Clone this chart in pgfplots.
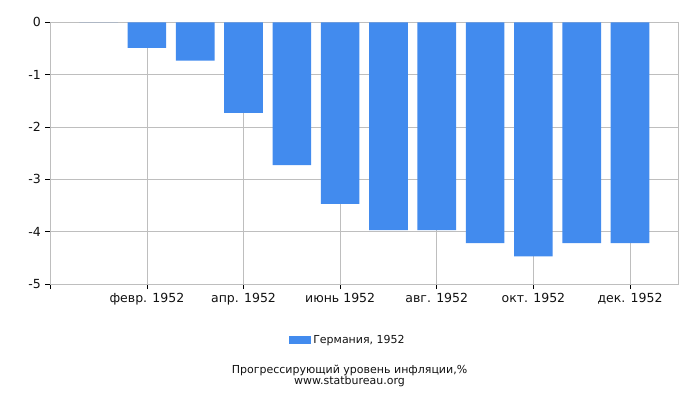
\documentclass[border=0pt]{standalone}
\usepackage{fontspec}
\setmainfont{DejaVu Sans}
\usepackage{pgfplots}
\pgfplotsset{compat=1.18}
\definecolor{barblue}{HTML}{428BEE}
\definecolor{gridgray}{HTML}{BEBEBE}
\definecolor{txt}{HTML}{111111}

\begin{document}
\begin{tikzpicture}
  \begin{axis}[
      scale only axis=true,
      width=628bp, height=261.7bp,
      xmin=-1, xmax=12,
      ymin=-5, ymax=0,
      ybar, bar width=0.8,
      xtick={-1,1,3,5,7,9,11},
      xticklabels={,февр. 1952,апр. 1952,июнь 1952,авг. 1952,окт. 1952,дек. 1952},
      ytick={-5,-4,-3,-2,-1,0},
      /pgf/number format/assume math mode=true,
      ticklabel style={font=\fontsize{12.5bp}{14bp}\selectfont, text=txt},
      xmajorgrids, ymajorgrids,
      grid style={gridgray, line width=0.8pt},
      axis line style={gridgray, line width=0.8pt},
      tick style={black, line width=0.8pt},
      tick align=outside, tick pos=left,
      major tick length=5bp,
      xticklabel style={yshift=-1bp},
      yticklabel style={xshift=-1bp},
      legend style={
        at={(axis description cs:0.474,-0.214)}, anchor=center,
        draw=none, fill=none,
        font=\fontsize{11bp}{12bp}\selectfont, text=txt,
        /tikz/every even column/.append style={column sep=0bp}},
      legend image code/.code={\fill[barblue] (0bp,-4bp) rectangle (22bp,4bp);},
    ]
    \addplot[fill=barblue, draw=none] coordinates {
      (0,0) (1,-0.49) (2,-0.73) (3,-1.73) (4,-2.73) (5,-3.47)
      (6,-3.97) (7,-3.97) (8,-4.22) (9,-4.47) (10,-4.22) (11,-4.22)};
    \addlegendentry{Германия, 1952}
  \end{axis}
  \node[align=center, text=txt, font=\fontsize{11bp}{10bp}\selectfont]
    at (299.2bp,-92bp) {Прогрессирующий уровень инфляции,\%\\www.statbureau.org};
  \path[use as bounding box] (-50.3bp,-116bp) rectangle (649.7bp,284bp);
\end{tikzpicture}
\end{document}
